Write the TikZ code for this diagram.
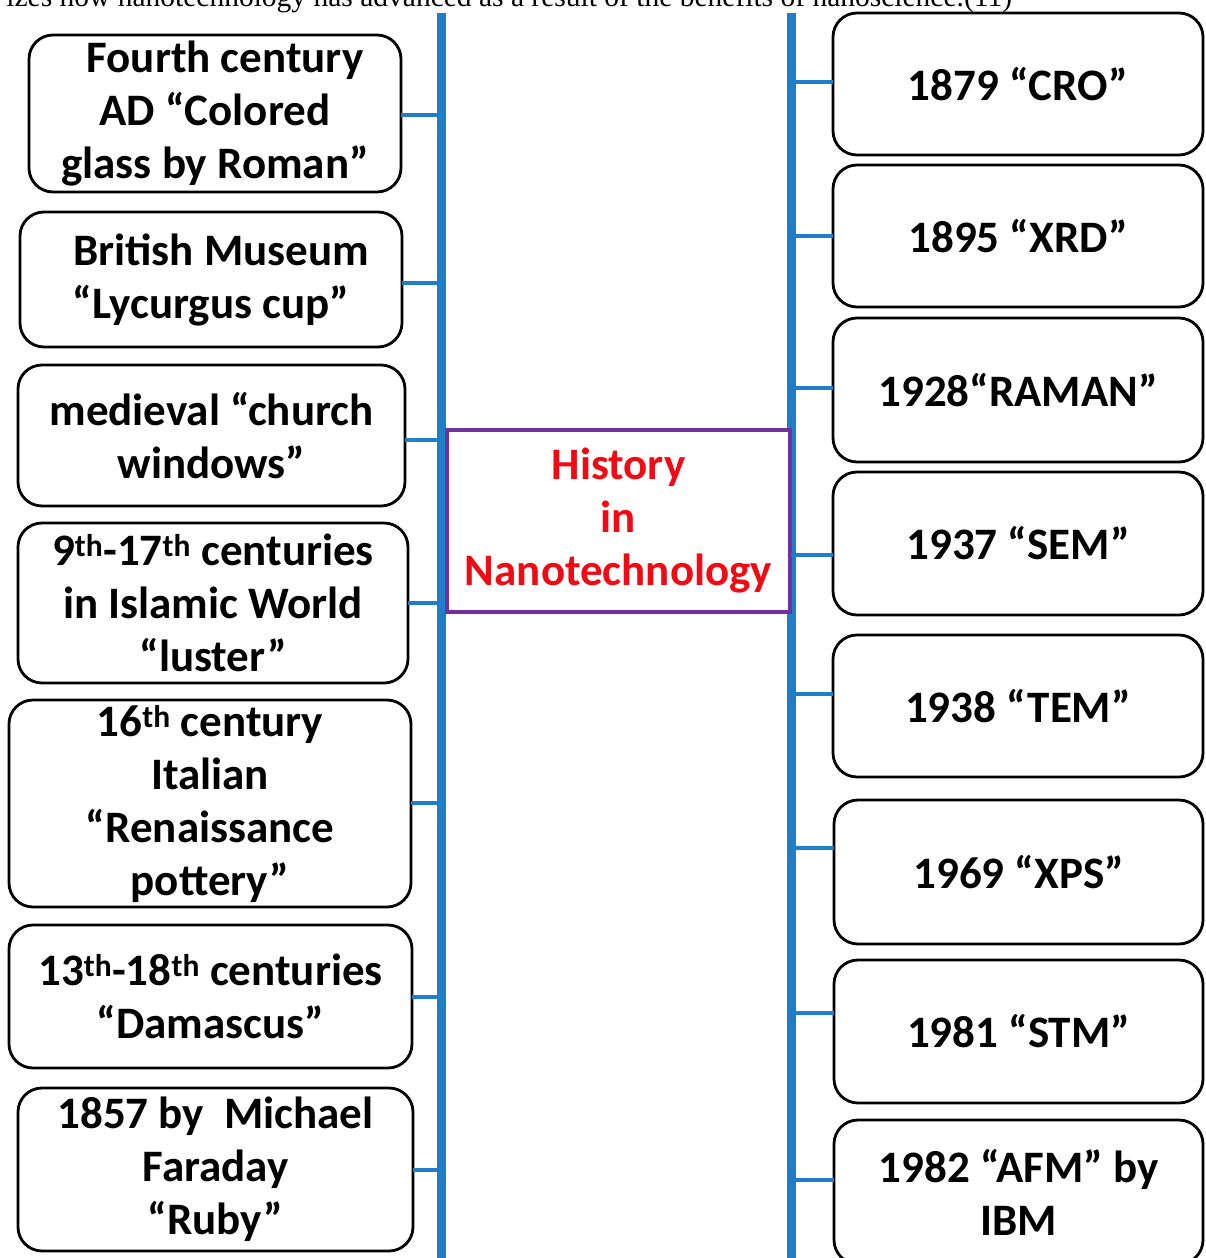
\documentclass[tikz,border=0pt]{standalone}
\usepackage{fontspec}
\setmainfont{Carlito}
\newfontfamily\capfont{Liberation Serif}
\definecolor{lineblue}{RGB}{32,126,200}
\definecolor{boxpurple}{RGB}{112,48,160}
\definecolor{histred}{RGB}{240,10,20}
\newcommand\evbox[6]{%
  \node[evbox, minimum width={#4-#2}, minimum height={#5-#3}] (#1) at ({(#2+#4)/2},{(#3+#5)/2}) {#6};}
\begin{document}
\begin{tikzpicture}[x=1pt,y=-1pt,
  every node/.style={inner sep=0pt, outer sep=0pt},
  evbox/.style={draw=black, fill=white, line width=2.8pt, rounded corners=24pt,
    font=\fontsize{45}{53}\selectfont\bfseries, align=center},
  centerbox/.style={draw=boxpurple, fill=white, line width=3.5pt,
    font=\fontsize{45}{53}\selectfont\bfseries, text=histred, align=center},
  tick/.style={draw=lineblue, line width=4.5pt},
  spine/.style={draw=lineblue, line width=9pt},
  caption/.style={font=\capfont\fontsize{29.5}{34}\selectfont, anchor=base east}]
\clip (0,0) rectangle (1205,1258);
\useasboundingbox (0,0) rectangle (1205,1258);
\fill[white] (0,0) rectangle (1205,1258);

% caption line cut by the top edge
\node[caption] (cap) at (1012,6) {izes how nanotechnology has advanced as a result of the benefits of nanoscience.(11)};

% spines
\coordinate (lt) at (441,13);
\coordinate (lb) at (441,1262);
\coordinate (rt) at (791,13);
\coordinate (rb) at (791,1262);
\draw[spine] (lt) -- (lb);
\draw[spine] (rt) -- (rb);

% tick points on the spines
\coordinate (ca1) at (441,115);
\coordinate (ca2) at (441,283);
\coordinate (ca3) at (441,440);
\coordinate (ca4) at (441,603);
\coordinate (ca5) at (441,803);
\coordinate (ca6) at (441,997);
\coordinate (ca7) at (441,1170);
\coordinate (cb1) at (791,82);
\coordinate (cb2) at (791,236);
\coordinate (cb3) at (791,388);
\coordinate (cb4) at (791,555);
\coordinate (cb5) at (791,694);
\coordinate (cb6) at (791,848);
\coordinate (cb7) at (791,1013);
\coordinate (cb8) at (791,1180);

% left boxes
\evbox{l1}{29}{35}{401}{192}{\hspace*{20pt}Fourth century\\AD “Colored\\glass by Roman”}
\evbox{l2}{20}{212}{402}{347}{\hspace*{20pt}British Museum\\“Lycurgus cup”}
\evbox{l3}{18}{365}{405}{506}{medieval “church\\windows”}
\evbox{l4}{18}{523}{408}{683}{9\textsuperscript{th}-17\textsuperscript{th} centuries\\in Islamic World\\“luster”}
\evbox{l5}{9}{700}{411}{907}{16\textsuperscript{th} century\\Italian\\“Renaissance\\pottery”}
\evbox{l6}{9}{925}{412}{1068}{13\textsuperscript{th}-18\textsuperscript{th} centuries\\“Damascus”}
\evbox{l7}{18}{1088}{413}{1251}{1857 by\ \ Michael\\Faraday\\“Ruby”}

% right boxes
\evbox{r1}{833}{13}{1203}{155}{1879 “CRO”}
\evbox{r2}{833}{165}{1203}{307}{1895 “XRD”}
\evbox{r3}{833}{318}{1203}{462}{1928“RAMAN”}
\evbox{r4}{833}{472}{1203}{615}{1937 “SEM”}
\evbox{r5}{833}{635}{1203}{777}{1938 “TEM”}
\evbox{r6}{834}{800}{1203}{944}{1969 “XPS”}
\evbox{r7}{834}{960}{1203}{1103}{1981 “STM”}
\evbox{r8}{834}{1120}{1203}{1264}{1982 “AFM” by\\IBM}

% center box
\node[centerbox, minimum width=343, minimum height=182] (hist) at (618.5,521) {History\\in\\Nanotechnology};

% connectors
\draw[tick] (ca1 -| l1.east) -- (ca1);
\draw[tick] (ca2 -| l2.east) -- (ca2);
\draw[tick] (ca3 -| l3.east) -- (ca3);
\draw[tick] (ca4 -| l4.east) -- (ca4);
\draw[tick] (ca5 -| l5.east) -- (ca5);
\draw[tick] (ca6 -| l6.east) -- (ca6);
\draw[tick] (ca7 -| l7.east) -- (ca7);
\draw[tick] (cb1) -- (cb1 -| r1.west);
\draw[tick] (cb2) -- (cb2 -| r2.west);
\draw[tick] (cb3) -- (cb3 -| r3.west);
\draw[tick] (cb4) -- (cb4 -| r4.west);
\draw[tick] (cb5) -- (cb5 -| r5.west);
\draw[tick] (cb6) -- (cb6 -| r6.west);
\draw[tick] (cb7) -- (cb7 -| r7.west);
\draw[tick] (cb8) -- (cb8 -| r8.west);
\end{tikzpicture}
\end{document}
